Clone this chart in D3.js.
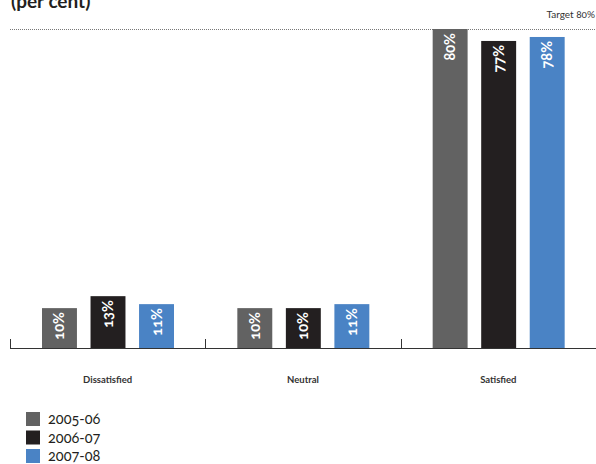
<!DOCTYPE html>
<html>
<head>
<meta charset="utf-8">
<script src="https://cdn.jsdelivr.net/npm/d3@7"></script>
<style>
  html, body { margin: 0; padding: 0; background: #fff; }
  svg { display: block; font-family: Lato, "Open Sans", sans-serif; font-variant-numeric: oldstyle-nums; font-feature-settings: "onum" 1; }
</style>
</head>
<body>
<svg id="chart" width="596" height="464"></svg>
<script>
// Satisfaction responses by year (per cent)
const categories = ["Dissatisfied", "Neutral", "Satisfied"];
const years = ["2005-06", "2006-07", "2007-08"];
const values2005 = [10, 10, 80];
const values2006 = [13, 10, 77];
const values2007 = [11, 11, 78];
const target = 80;

const seriesValues = [values2005, values2006, values2007];
const colors = ["#626262", "#231f20", "#4a83c5"];

const svg = d3.select("#chart");

const x0 = d3.scaleBand().domain(categories).range([10, 596]).paddingInner(0).paddingOuter(0);
const x1 = d3.scaleBand().domain(years).range([32, 164]).paddingInner(0.28);
const y = d3.scaleLinear().domain([0, 80]).range([348, 29]);

// Title (partly cut off at the top)
svg.append("text").attr("x", 11).attr("y", 8)
  .attr("font-size", 19).attr("font-weight", 700).attr("fill", "#231f20")
  .text("(per cent)");

// Target line
svg.append("line")
  .attr("x1", 10).attr("x2", 596)
  .attr("y1", y(target) + 0.5).attr("y2", y(target) + 0.5)
  .attr("stroke", "#777").attr("stroke-width", 1).attr("stroke-dasharray", "1,1");
svg.append("text").attr("x", 595).attr("y", 18).attr("text-anchor", "end")
  .attr("font-size", 10).attr("fill", "#333").text("Target 80%");

// Bars
const rows = categories.map((c, i) => ({ cat: c, vals: years.map((yr, j) => ({ yr, v: seriesValues[j][i], j })) }));
const groups = svg.selectAll("g.cat").data(rows).join("g")
  .attr("class", "cat")
  .attr("transform", d => `translate(${x0(d.cat)},0)`);

groups.selectAll("rect").data(d => d.vals).join("rect")
  .attr("x", d => x1(d.yr))
  .attr("width", x1.bandwidth())
  .attr("y", d => y(d.v))
  .attr("height", d => y(0) - y(d.v))
  .attr("fill", d => colors[d.j]);

groups.selectAll("text.val").data(d => d.vals).join("text")
  .attr("class", "val")
  .attr("transform", d => `translate(${x1(d.yr) + x1.bandwidth() / 2 + 5},${y(d.v) + 4}) rotate(-90)`)
  .attr("text-anchor", "end")
  .attr("font-size", 14.5).attr("font-weight", 700).attr("fill", "#fff")
  .text(d => d.v + "%");

// Axis baseline with band ticks
const axis = svg.append("g");
axis.append("line").attr("x1", 10).attr("x2", 596).attr("y1", 348.5).attr("y2", 348.5)
  .attr("stroke", "#333").attr("stroke-width", 1);
const edges = categories.map(c => x0(c)).concat([x0.range()[1] - 0.5]);
axis.selectAll("line.tick").data(edges).join("line").attr("class", "tick")
  .attr("x1", d => Math.round(d) + 0.5).attr("x2", d => Math.round(d) + 0.5)
  .attr("y1", 339).attr("y2", 348.5)
  .attr("stroke", "#333").attr("stroke-width", 1);
axis.selectAll("text.cat").data(categories).join("text").attr("class", "cat")
  .attr("x", d => x0(d) + x0.bandwidth() / 2)
  .attr("y", 383)
  .attr("text-anchor", "middle")
  .attr("font-size", 9.5).attr("font-weight", 700).attr("fill", "#333")
  .text(d => d);

// Legend
const legend = svg.append("g").selectAll("g").data(years).join("g")
  .attr("transform", (d, i) => `translate(26,${412 + i * 18.5})`);
legend.append("rect").attr("width", 14).attr("height", 14).attr("fill", (d, i) => colors[i]);
legend.append("text").attr("x", 22).attr("y", 12)
  .attr("font-size", 14.5).attr("fill", "#231f20").text(d => d);
</script>
</body>
</html>
